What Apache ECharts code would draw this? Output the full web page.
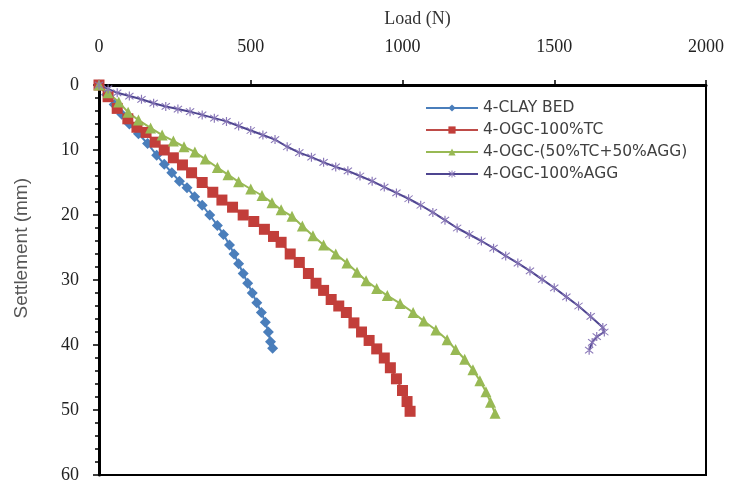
<!DOCTYPE html>
<html>
<head>
<meta charset="utf-8">
<script src="https://cdn.jsdelivr.net/npm/echarts@6/dist/echarts.min.js"></script>
<style>html,body{margin:0;padding:0;background:#fff}#c{width:737px;height:486px}</style>
</head>
<body>
<div id="c"></div>
<script>
const xTicks = [0, 500, 1000, 1500, 2000];
const yTicks = [0, 10, 20, 30, 40, 50, 60];

const clayLoad = [0,25,50,75,100,130,160,190,215,240,265,290,315,340,365,390,410,430,445,460,475,490,505,520,535,548,558,565,572];
const claySett = [0,1.5,3,4.5,6,7.5,9,10.8,12.2,13.5,14.8,15.8,17.2,18.5,20,21.6,23,24.6,26,27.5,29,30.5,32,33.5,35,36.5,38,39.5,40.5];

const tcLoad = [0,30,60,95,125,155,185,215,245,275,305,340,375,405,440,475,510,545,575,600,630,660,690,715,740,765,790,815,840,865,890,915,940,960,980,1000,1015,1025];
const tcSett = [0,1.8,3.6,5.2,6.5,7.3,8.8,10,11.2,12.3,13.5,15,16.5,17.7,18.8,20,21,22.2,23.3,24.2,26,27.3,29,30.5,31.6,33,34,35,36.6,38,39.3,40.6,42,43.5,45.2,47,48.7,50.2];

const mixLoad = [0,30,65,96,130,170,208,245,280,316,350,390,425,460,500,537,570,600,636,670,705,740,780,817,850,880,915,950,992,1035,1070,1110,1147,1175,1205,1232,1255,1275,1290,1305];
const mixSett = [0,1.2,2.6,4.2,5.4,6.6,7.7,8.6,9.5,10.3,11.4,12.7,13.8,14.9,16,17,18.1,19.2,20.2,21.7,23.2,24.6,26,27.4,28.8,30.1,31.3,32.4,33.6,35,36.3,37.7,39.2,40.7,42.2,43.8,45.5,47.2,48.8,50.5];

const aggLoad = [0,30,60,100,140,180,220,260,300,340,380,420,460,500,540,580,620,660,700,740,780,820,860,900,940,980,1020,1060,1100,1140,1180,1220,1260,1300,1340,1380,1420,1460,1500,1540,1580,1620,1660,1665,1640,1625,1615];
const aggSett = [0,0.6,1.2,1.7,2.2,2.8,3.3,3.7,4.1,4.6,5.1,5.6,6.3,7,7.7,8.4,9.5,10.4,11.1,11.9,12.6,13.2,14,14.8,15.7,16.6,17.5,18.5,19.6,20.8,22,23,24,25.1,26.3,27.4,28.6,29.9,31.2,32.6,34,35.6,37.3,38,38.7,39.6,40.8];

const seriesNames = ['4-CLAY BED', '4-OGC-100%TC', '4-OGC-(50%TC+50%AGG)', '4-OGC-100%AGG'];

function pairs(xs, ys) { return xs.map((v, i) => [v, ys[i]]); }

const starPath = 'path://M-0.6,-5 L0.6,-5 L0.6,5 L-0.6,5 Z M-4.6,-3.2 L-3.8,-4 L4.6,3.2 L3.8,4 Z M4.6,-3.2 L3.8,-4 L-4.6,3.2 L-3.8,4 Z';

const chart = echarts.init(document.getElementById('c'), null, {renderer: 'canvas'});
chart.setOption({
  animation: false,
  backgroundColor: '#ffffff',
  grid: {left: 99, top: 85, right: 31, bottom: 11, show: true, borderColor: '#000', borderWidth: 2, backgroundColor: 'transparent'},
  legend: {
    orient: 'vertical', left: 420, top: 95, itemWidth: 52, itemHeight: 9, itemGap: 6,
    textStyle: {fontFamily: 'DejaVu Sans', fontSize: 15.5, color: '#404040'},
    data: seriesNames
  },
  graphic: [{
    type: 'text', left: 12, top: 178, rotation: Math.PI / 2,
    style: {text: 'Settlement (mm)', fontFamily: 'Liberation Sans', fontSize: 19, fill: '#555'}
  }],
  xAxis: {
    type: 'value', position: 'top', min: 0, max: 2000, interval: 500,
    name: 'Load (N)', nameLocation: 'middle', nameGap: 57,
    nameTextStyle: {fontFamily: 'Liberation Serif', fontSize: 18, color: '#333', padding: [0, 0, 0, 30]},
    axisLine: {show: true, lineStyle: {color: '#000', width: 3}},
    axisTick: {show: true, inside: false, length: 5, lineStyle: {color: '#000', width: 1.5}},
    axisLabel: {fontFamily: 'Liberation Serif', fontSize: 18, color: '#222', margin: 29,
      formatter: v => xTicks.includes(v) ? String(v) : ''},
    splitLine: {show: false}
  },
  yAxis: {
    type: 'value', inverse: true, min: 0, max: 60, interval: 10,
    axisLine: {show: true, lineStyle: {color: '#000', width: 3}},
    axisTick: {show: true, inside: false, length: 6, lineStyle: {color: '#000', width: 1.5}},
    minorTick: {show: true, splitNumber: 5, length: 4, lineStyle: {color: '#000', width: 1.5}},
    axisLabel: {fontFamily: 'Liberation Serif', fontSize: 18, color: '#222', margin: 20,
      formatter: v => yTicks.includes(v) ? String(v) : ''},
    splitLine: {show: false}
  },
  series: [
    {name: seriesNames[0], type: 'line', data: pairs(clayLoad, claySett), symbol: 'diamond', symbolSize: 11,
      itemStyle: {color: '#4A7EBB'}, lineStyle: {color: '#4A7EBB', width: 2}},
    {name: seriesNames[1], type: 'line', data: pairs(tcLoad, tcSett), symbol: 'rect', symbolSize: 11,
      itemStyle: {color: '#C23E3A'}, lineStyle: {color: '#BE4B48', width: 2}},
    {name: seriesNames[2], type: 'line', data: pairs(mixLoad, mixSett), symbol: 'triangle', symbolSize: 11,
      itemStyle: {color: '#98B954'}, lineStyle: {color: '#98B954', width: 2}},
    {name: seriesNames[3], type: 'line', data: pairs(aggLoad, aggSett), symbol: starPath, symbolSize: 9,
      itemStyle: {color: '#8A78B8'}, lineStyle: {color: '#4E4590', width: 2}}
  ]
});
</script>
</body>
</html>
